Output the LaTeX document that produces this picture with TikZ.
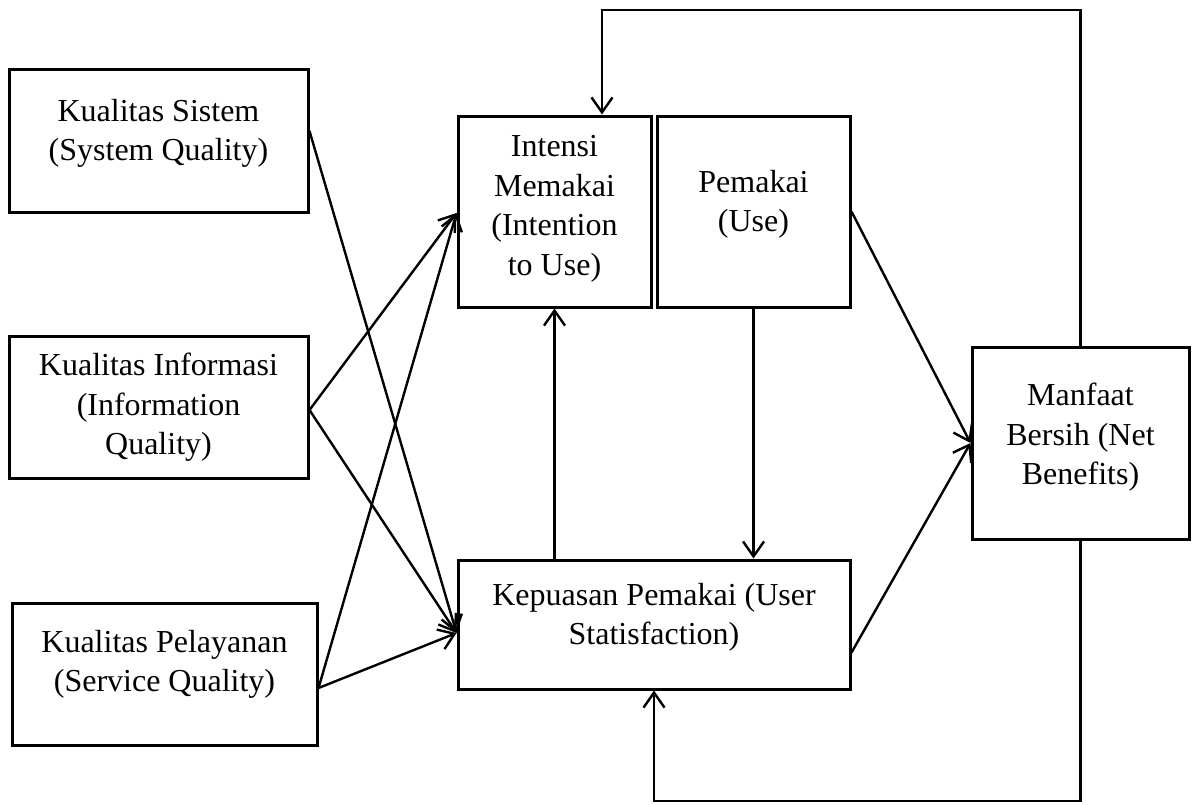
\documentclass[tikz,border=0pt]{standalone}
\usepackage{fontspec}
\setmainfont{Liberation Serif}
\usetikzlibrary{arrows.meta,calc}
\begin{document}
\begin{tikzpicture}[x=1pt,y=-1pt,
  box/.style={draw, line width=3pt, inner sep=0pt, rectangle},
  txt/.style={anchor=north, inner sep=0pt, align=center, font=\fontsize{32}{39.5}\selectfont},
  arr/.style={line width=2.4pt, -{Straight Barb[length=15pt,width=21pt]}},
  ln/.style={line width=2.4pt}]
\useasboundingbox (0,0) rectangle (1198,804);
% boxes
\node[box, minimum width=299pt, minimum height=143pt] (ks) at (158.5,140.5) {};
\node[box, minimum width=299pt, minimum height=142pt] (ki) at (158.5,407) {};
\node[box, minimum width=305pt, minimum height=142pt] (kp) at (164.5,674) {};
\node[box, minimum width=193pt, minimum height=191pt] (im) at (554.5,211.5) {};
\node[box, minimum width=193pt, minimum height=191pt] (pm) at (753.5,211.5) {};
\node[box, minimum width=392pt, minimum height=129pt] (ku) at (654,624.5) {};
\node[box, minimum width=217pt, minimum height=192pt] (mb) at (1080.5,443) {};
% texts
\node[txt] (ks-t) at (158.5,99) {Kualitas Sistem\\(System Quality)};
\node[txt] (ki-t) at (158.5,353) {Kualitas Informasi\\(Information\\Quality)};
\node[txt] (kp-t) at (164.5,630) {Kualitas Pelayanan\\(Service Quality)};
\node[txt] (im-t) at (554.5,135.5) {Intensi\\Memakai\\(Intention\\to Use)};
\node[txt] (pm-t) at (753.5,170) {Pemakai\\(Use)};
\node[txt] (ku-t) at (654,583) {Kepuasan Pemakai (User\\Statisfaction)};
\node[txt] (mb-t) at (1080.5,383) {Manfaat\\Bersih (Net\\Benefits)};
% connectors from left boxes
\draw[arr] ([yshift=9.5pt]ks.east) -- ([yshift=-8.5pt]ku.west);
\draw[arr] ([yshift=-3pt]ki.east) -- ([yshift=-1.5pt]im.west);
\draw[arr] ([yshift=-3pt]ki.east) -- ([yshift=-8.5pt]ku.west);
\draw[arr] ([yshift=-14pt]kp.east) -- ([yshift=-1.5pt]im.west);
\draw[arr] ([yshift=-14pt]kp.east) -- ([yshift=-8.5pt]ku.west);
% middle
\draw[arr] (im.south |- ku.north) -- (im.south);
\draw[arr] (pm.south) -- (pm.south |- ku.north);
\draw[arr] (pm.east) -- (mb.west);
\draw[arr] ([yshift=-28pt]ku.east) -- (mb.west);
% feedback loops
\coordinate (tr) at (1080.5,10);
\coordinate (tl) at (602,10);
\draw[arr] (mb.north) -- (tr) -- (tl) -- (tl |- im.north);
\coordinate (br) at (1080.5,801);
\coordinate (bl) at (654,801);
\draw[arr] (mb.south) -- (br) -- (bl) -- (ku.south);
\end{tikzpicture}
\end{document}
